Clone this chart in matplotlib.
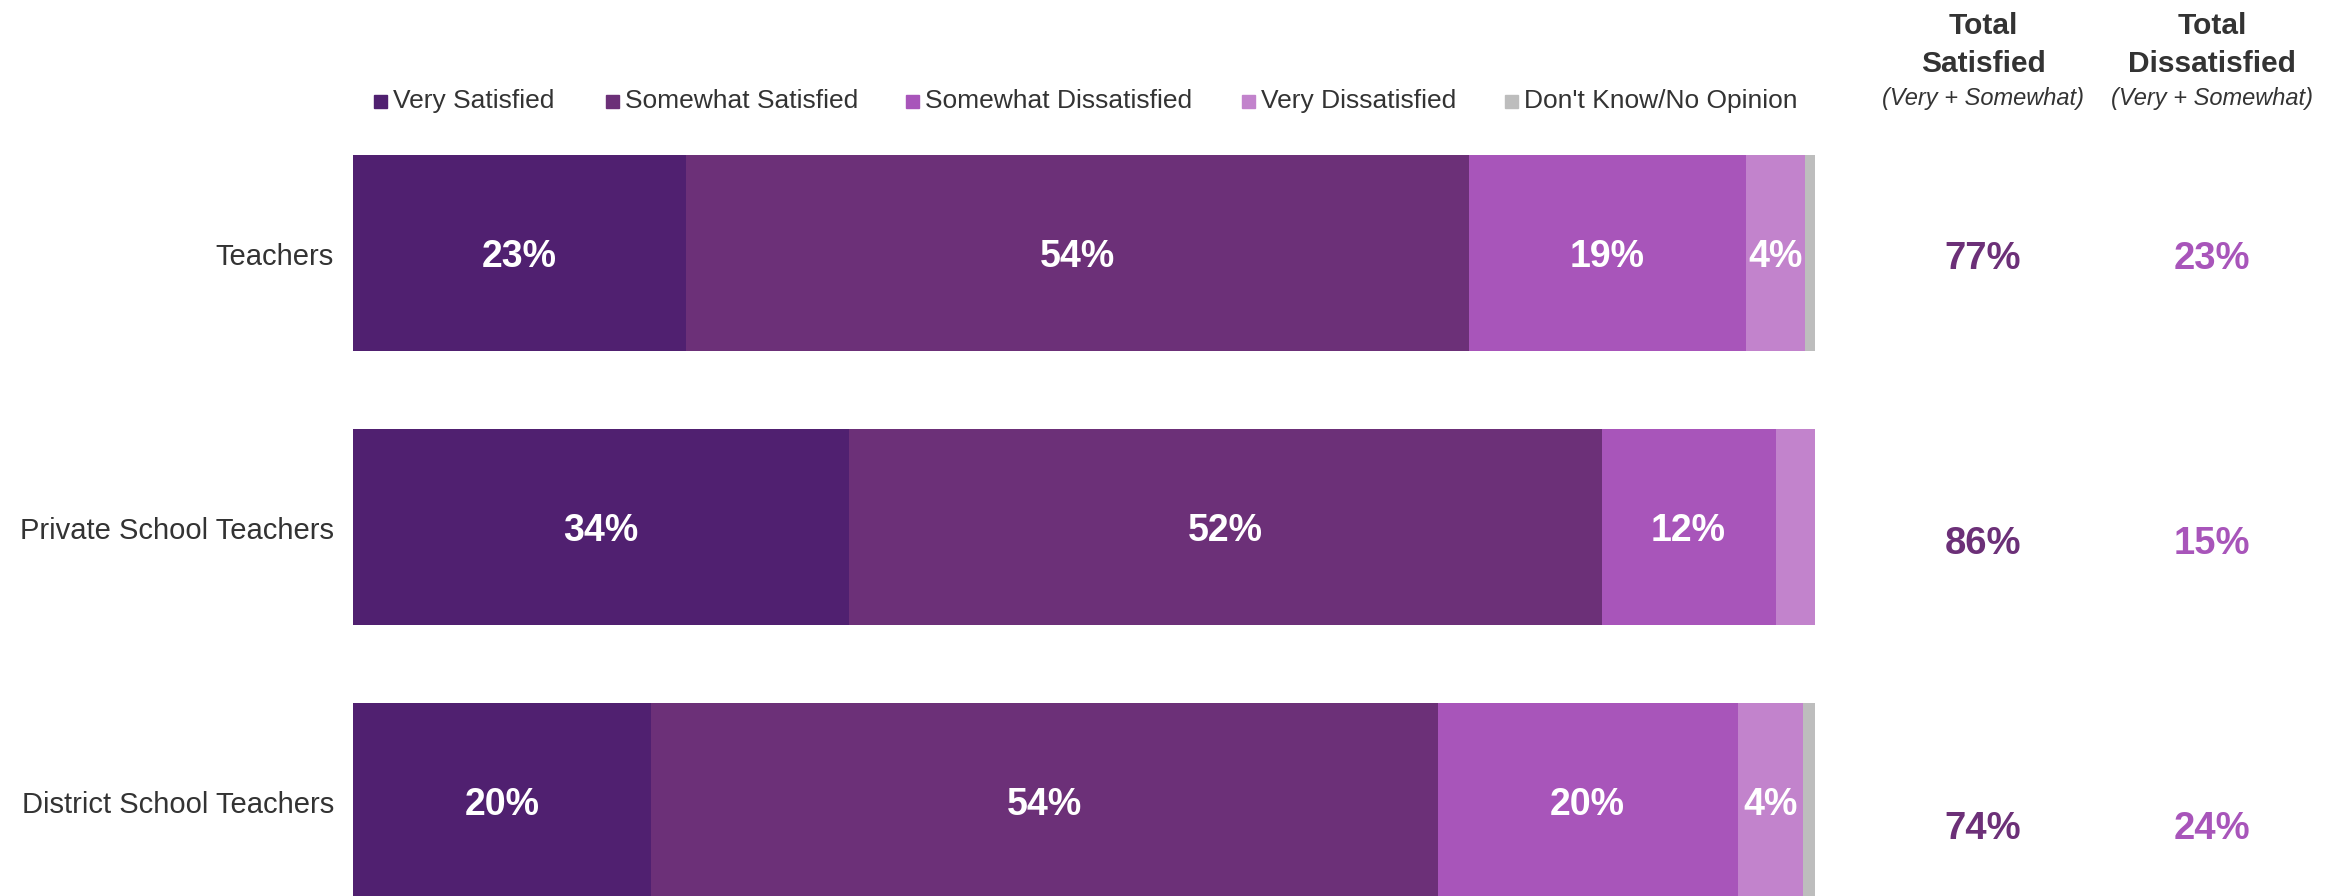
import matplotlib.pyplot as plt
from matplotlib.patches import Rectangle

plt.rcParams['font.family'] = ['Liberation Sans', 'DejaVu Sans']

groups = ['Teachers', 'Private School Teachers', 'District School Teachers']
series = ['Very Satisfied', 'Somewhat Satisfied', 'Somewhat Dissatisfied',
          'Very Dissatisfied', "Don't Know/No Opinion"]
colors = ['#502070', '#6C3078', '#A855BA', '#C283CC', '#BDBDBD']

# segment widths (percent)
very_sat = [22.8, 33.9, 20.4]
some_sat = [53.5, 51.5, 53.8]
some_dis = [19.0, 11.9, 20.5]
very_dis = [4.0, 2.7, 4.5]
dont_know = [0.7, 0.0, 0.8]

# printed labels inside the bars (None = no label)
lab_very_sat = ['23%', '34%', '20%']
lab_some_sat = ['54%', '52%', '54%']
lab_some_dis = ['19%', '12%', '20%']
lab_very_dis = ['4%', None, '4%']

total_sat = ['77%', '86%', '74%']
total_dis = ['23%', '15%', '24%']

W, H = 2341, 896
fig = plt.figure(figsize=(W / 100, H / 100), dpi=100)

# axes placed so bars run from x=353 to 1815 px
x0, x1 = 353, 1815
ax = fig.add_axes([x0 / W, 0, (x1 - x0) / W, 1])
ax.set_xlim(0, 100)
# bar centres at 253 + 274*i px from top
ax.set_ylim((H - 253) / 274, -253 / 274)
ax.axis('off')

dy = 4 / 274  # small nudge so text sits visually centred

vals = [very_sat, some_sat, some_dis, very_dis, dont_know]
labs = [lab_very_sat, lab_some_sat, lab_some_dis, lab_very_dis, None]
ypos = list(range(len(groups)))
left = [0.0] * len(groups)
for v, lab, c in zip(vals, labs, colors):
    ax.barh(ypos, v, left=left, height=196 / 274, color=c, linewidth=0)
    if lab is not None:
        for i in ypos:
            if lab[i]:
                ax.text(left[i] + v[i] / 2, i + dy, lab[i], ha='center', va='center',
                        color='white', fontsize=27, fontweight='bold')
    left = [l + a for l, a in zip(left, v)]

def px2x(px):
    return (px - x0) / (x1 - x0) * 100

# category labels
for i, g in enumerate(groups):
    ax.text(px2x(334), i + dy, g, ha='right', va='center', fontsize=21, color='#333333')

# totals columns
tot_y = [255, 540, 825]
for i in ypos:
    yy = (tot_y[i] - 253) / 274 + dy
    ax.text(px2x(1983), yy, total_sat[i], ha='center', va='center',
            fontsize=27.5, fontweight='bold', color='#6C3078')
    ax.text(px2x(2212), yy, total_dis[i], ha='center', va='center',
            fontsize=27.5, fontweight='bold', color='#A855BA')

# column headers
for cx, word in [(1983, 'Satisfied'), (2212, 'Dissatisfied')]:
    fig.text(cx / W, 1 - 26 / H, 'Total', ha='center', va='center',
             fontsize=21.5, fontweight='bold', color='#333333')
    fig.text(cx / W, 1 - 64 / H, word, ha='center', va='center',
             fontsize=21.5, fontweight='bold', color='#333333')
    fig.text(cx / W, 1 - 98 / H, '(Very + Somewhat)', ha='center', va='center',
             fontsize=17, style='italic', color='#333333')

# legend
leg_x = [374, 606, 906, 1242, 1505]
leg_y = 101
for lx, name, c in zip(leg_x, series, colors):
    fig.patches.append(Rectangle((lx / W, 1 - (leg_y + 7) / H), 13 / W, 13 / H,
                                 transform=fig.transFigure, color=c, figure=fig))
    fig.text((lx + 19) / W, 1 - leg_y / H, name, ha='left', va='center',
             fontsize=19, color='#333333')

fig.savefig('out.png', dpi=100)
